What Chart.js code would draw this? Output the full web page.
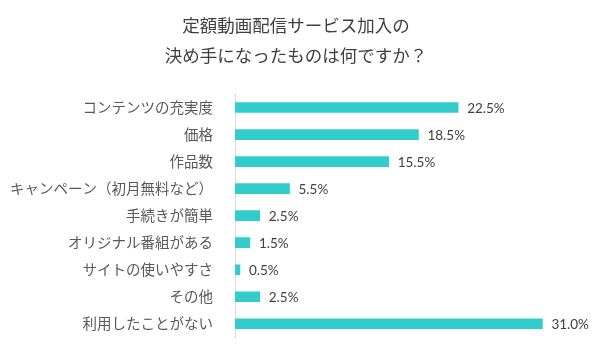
<!DOCTYPE html>
<html><head><meta charset="utf-8">
<script src="https://cdn.jsdelivr.net/npm/chart.js@4"></script>
<style>html,body{margin:0;padding:0;background:#fff}#wrap{width:600px;height:360px}</style>
</head><body><div id="wrap"><canvas id="c" width="600" height="360"></canvas></div>
<script>
const titleLines = ['定額動画配信サービス加入の', '決め手になったものは何ですか？'];
const categories = ['コンテンツの充実度','価格','作品数','キャンペーン（初月無料など）','手続きが簡単','オリジナル番組がある','サイトの使いやすさ','その他','利用したことがない'];
const values = [22.5, 18.5, 15.5, 5.5, 2.5, 1.5, 0.5, 2.5, 31.0];
const xMax = 36;

const jp = '"Noto Sans CJK JP", "Noto Sans", sans-serif';
const labelPlugin = {
  id: 'vlabels',
  afterDatasetsDraw(chart) {
    const ctx = chart.ctx;
    const meta = chart.getDatasetMeta(0);
    ctx.save();
    ctx.font = '13.5px Lato, "Open Sans", sans-serif';
    ctx.fillStyle = '#404040';
    ctx.textAlign = 'left';
    ctx.textBaseline = 'middle';
    meta.data.forEach((bar, i) => {
      ctx.fillText(values[i].toFixed(1) + '%', bar.x + 9, bar.y + 1);
    });
    ctx.restore();
  }
};

new Chart(document.getElementById('c'), {
  type: 'bar',
  data: { labels: categories, datasets: [{ data: values, backgroundColor: '#33CCCC', barThickness: 10 }] },
  options: {
    indexAxis: 'y',
    responsive: false,
    animation: false,
    layout: { padding: { left: 0, right: 8, bottom: 19, top: 0 } },
    plugins: {
      legend: { display: false },
      tooltip: { enabled: false },
      title: {
        display: true,
        text: titleLines,
        color: '#404040',
        font: { family: jp, size: 17.5, weight: 'normal', lineHeight: '30px' },
        padding: { top: 10, bottom: 24 }
      }
    },
    scales: {
      x: { display: false, min: 0, max: xMax },
      y: {
        grid: { display: false },
        border: { display: true, color: '#d9d9d9', width: 1 },
        ticks: { color: '#595959', padding: 14, font: { family: jp, size: 14.5 } },
        afterFit(s) { s.width = 235; }
      }
    }
  },
  plugins: [labelPlugin]
});
</script></body></html>
